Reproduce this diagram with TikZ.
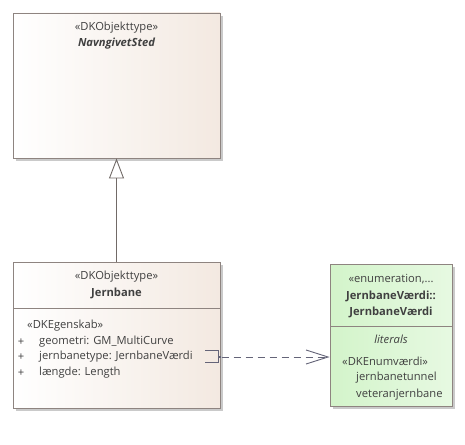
\documentclass[tikz,border=0pt]{standalone}
\usepackage{fontspec}
\setmainfont{Open Sans}
\usepackage{tikz}
\usetikzlibrary{calc,arrows,arrows.meta,positioning,shadows}
\definecolor{boxline}{HTML}{8E8480}
\definecolor{beige}{HTML}{F3E9E1}
\definecolor{lysgroen}{HTML}{D3F4CA}
\definecolor{tekst}{HTML}{404040}
\definecolor{pilgraa}{HTML}{646478}
\tikzset{klasse/.style={draw=boxline,rectangle,line width=0.9pt,
    drop shadow={shadow xshift=3pt,shadow yshift=-3pt,fill=black!35,opacity=0.6}},
  objekt/.style={klasse,left color=white,right color=beige},
  enum/.style={klasse,left color=lysgroen,right color=lysgroen!55},
  txt/.style={text=tekst,inner sep=0pt,font=\fontsize{11.2}{13}\selectfont},
  attr/.style={txt,anchor=west}}

\begin{document}
\begin{tikzpicture}[x=1pt,y=-1pt]
                      \useasboundingbox (0,0) rectangle (465,444);
                      % klasser
                      \node[objekt,minimum width=207pt,minimum height=145pt](sted)at(116.5,85.5){};
                      \node[objekt,minimum width=207pt,minimum height=146pt](bane)at(116.5,335){};
                      \node[enum,minimum width=122pt,minimum height=142pt](vaerdi)at(391,335){};
                      \draw[boxline,line width=0.9pt] (13,308) -- (220,308);
                      \draw[boxline,line width=0.9pt] (330,326) -- (452,326);
                      % tekster
                      \node[txt](stedst)at(116.5,28){«DKObjekttype»};
                      \node[txt,font=\fontsize{11.2}{13}\selectfont\bfseries\itshape](stednavn)at(116.5,44){NavngivetSted};
                      \node[txt](banest)at(116.5,277){«DKObjekttype»};
                      \node[txt,font=\fontsize{11.2}{13}\selectfont\bfseries](banenavn)at(116.5,293){Jernbane};
                      \node[attr](egensk)at(27,326){«DKEgenskab»};
                      \foreach \y/\t in {342/geometri: GM\_MultiCurve,357/jernbanetype: JernbaneVærdi,373/længde: Length}{
                        \node[txt]at(21,\y){+};
                        \node[attr]at(39,\y){\t};
                      }
                      \node[txt](enumst)at(391,279){«enumeration,...};
                      \node[txt,font=\fontsize{11.2}{13}\selectfont\bfseries](enumnavn)at(391,296){JernbaneVærdi::};
                      \node[txt,font=\fontsize{11.2}{13}\selectfont\bfseries](enumnavn2)at(391,312){JernbaneVærdi};
                      \node[txt,font=\fontsize{11.2}{13}\selectfont\itshape](lit)at(391,339){literals};
                      \node[attr](enumvst)at(342,361){«DKEnumværdi»};
                      \node[attr](tunnel)at(356,378){jernbanetunnel};
                      \node[attr](veteran)at(356,395){veteranjernbane};
                      % forbindelser
                      \draw[pilgraa,line width=0.9pt] (205,350) -- (218,350) -- (218,362) -- (205,362);
                      \node[fill=pilgraa,inner sep=1.4pt](anker)at(220,357){};
                      \draw[pilgraa,line width=0.9pt,dash pattern=on 7pt off 5pt,-{Straight Barb[length=22pt,width=14pt]}] (anker) -- (vaerdi.west|-anker);
                      \draw[boxline!80!black,line width=0.9pt,-{Triangle[open,length=20pt,width=15pt]}] (bane.north) -- (sted.south);
                  \end{tikzpicture}
\end{document}
